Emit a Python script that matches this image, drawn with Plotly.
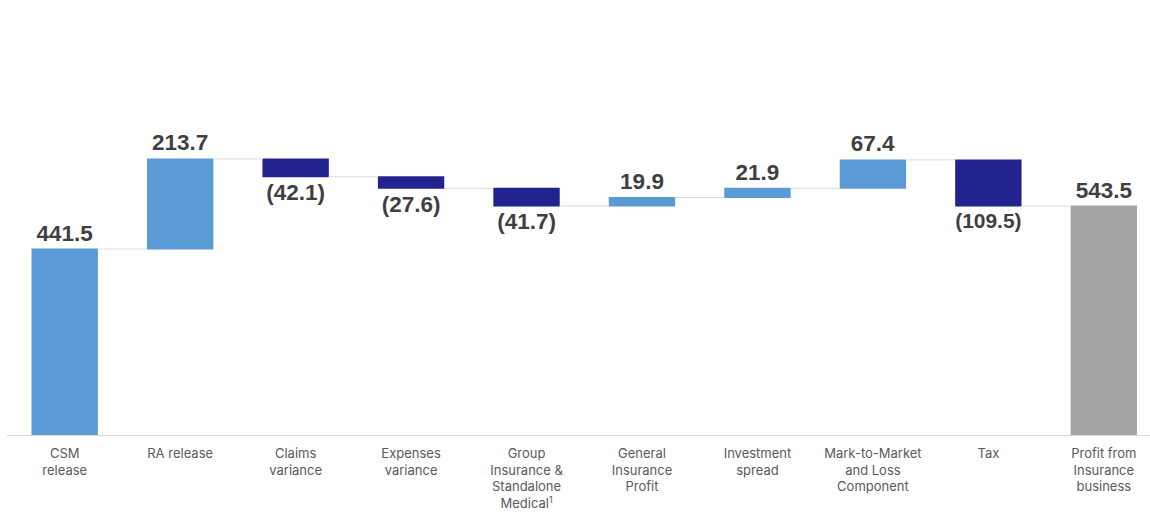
import plotly.graph_objects as go

# Profit walk: contributions to profit from insurance business
categories = [
    "CSM<br>release",
    "RA release",
    "Claims<br>variance",
    "Expenses<br>variance",
    "Group<br>Insurance &<br>Standalone<br>Medical<sup>1</sup>",
    "General<br>Insurance<br>Profit",
    "Investment<br>spread",
    "Mark-to-Market<br>and Loss<br>Component",
    "Tax",
    "Profit from<br>Insurance<br>business",
]
values = [441.5, 213.7, -42.1, -27.6, -41.7, 19.9, 21.9, 67.4, -109.5, 543.5]
measures = ["relative"] * 9 + ["total"]


def fmt(v):
    return f"({abs(v):.1f})" if v < 0 else f"{v:.1f}"


labels = [f"<b>{fmt(v)}</b>" for v in values]

fig = go.Figure(
    go.Waterfall(
        x=list(range(len(categories))),
        y=values,
        measure=measures,
        text=labels,
        textposition="outside",
        textfont=dict(family="Liberation Sans", size=22.5, color="#3F3F3F"),
        increasing=dict(marker=dict(color="#5B9BD5")),
        decreasing=dict(marker=dict(color="#23238F")),
        totals=dict(marker=dict(color="#A5A5A5")),
        connector=dict(line=dict(color="#DDDDDD", width=1)),
        width=0.575,
        cliponaxis=False,
        hoverinfo="skip",
    )
)

fig.update_layout(
    width=1150,
    height=518,
    margin=dict(l=7, r=0, t=40, b=83),
    paper_bgcolor="white",
    plot_bgcolor="white",
    showlegend=False,
    font=dict(family="Inter", color="#595959"),
)
fig.update_xaxes(
    tickmode="array",
    tickvals=list(range(len(categories))),
    ticktext=categories,
    range=[-0.5, 9.4],
    showgrid=False,
    showline=True,
    linecolor="#D9D9D9",
    linewidth=1,
    ticks="",
    tickfont=dict(family="Inter", size=13, color="#5A5A5A"),
    ticklabelstandoff=6,
    zeroline=False,
)
fig.update_yaxes(
    range=[0, 937.6],
    visible=False,
    showgrid=False,
    zeroline=False,
)

fig.write_html("out.html")
